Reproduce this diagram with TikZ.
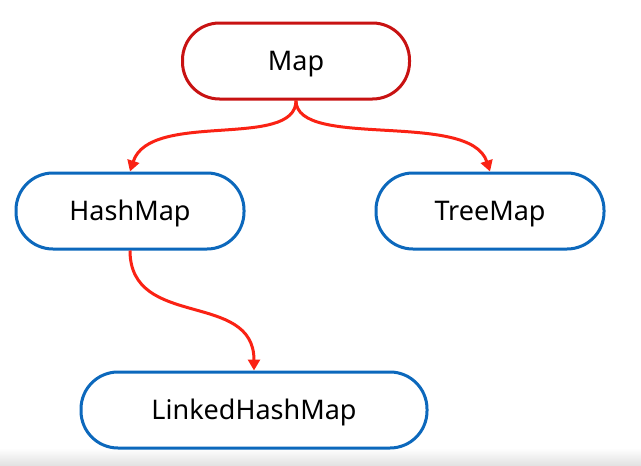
\documentclass[tikz,border=0pt]{standalone}
\usepackage{fontspec}
\setmainfont{Noto Sans}
\usetikzlibrary{arrows.meta}
\definecolor{mapred}{RGB}{200,18,18}
\definecolor{boxblue}{RGB}{12,104,188}
\definecolor{arrred}{RGB}{250,34,20}
\tikzset{
  pill/.style={draw, line width=3pt, fill=white, rounded corners=37pt,
    minimum height=76pt, font=\fontsize{27}{32}\selectfont, inner sep=0pt,
    text height=19pt, text depth=0pt},
  link/.style={draw=arrred, line width=3pt, -{Triangle[length=11pt,width=12pt]}}
}
\begin{document}
\begin{tikzpicture}[x=1pt,y=-1pt]
\useasboundingbox (0,0) rectangle (641,466);
\fill[white] (0,0) rectangle (641,466);
\shade[top color=white, bottom color=black!12] (0,448) rectangle (641,466);
\node[pill, draw=mapred, minimum width=227pt] (m) at (296,61) {Map};
\node[pill, draw=boxblue, minimum width=228pt] (h) at (130,211) {HashMap};
\node[pill, draw=boxblue, minimum width=228pt] (t) at (490,211) {TreeMap};
\node[pill, draw=boxblue, minimum width=346pt] (l) at (254,410) {LinkedHashMap};
\draw[link] (m.south) .. controls (296,150) and (150,110) .. (h.north);
\draw[link] (m.south) .. controls (296,150) and (470,110) .. (t.north);
\draw[link] (h.south) .. controls (130,330) and (254,290) .. (l.north);
\end{tikzpicture}
\end{document}
